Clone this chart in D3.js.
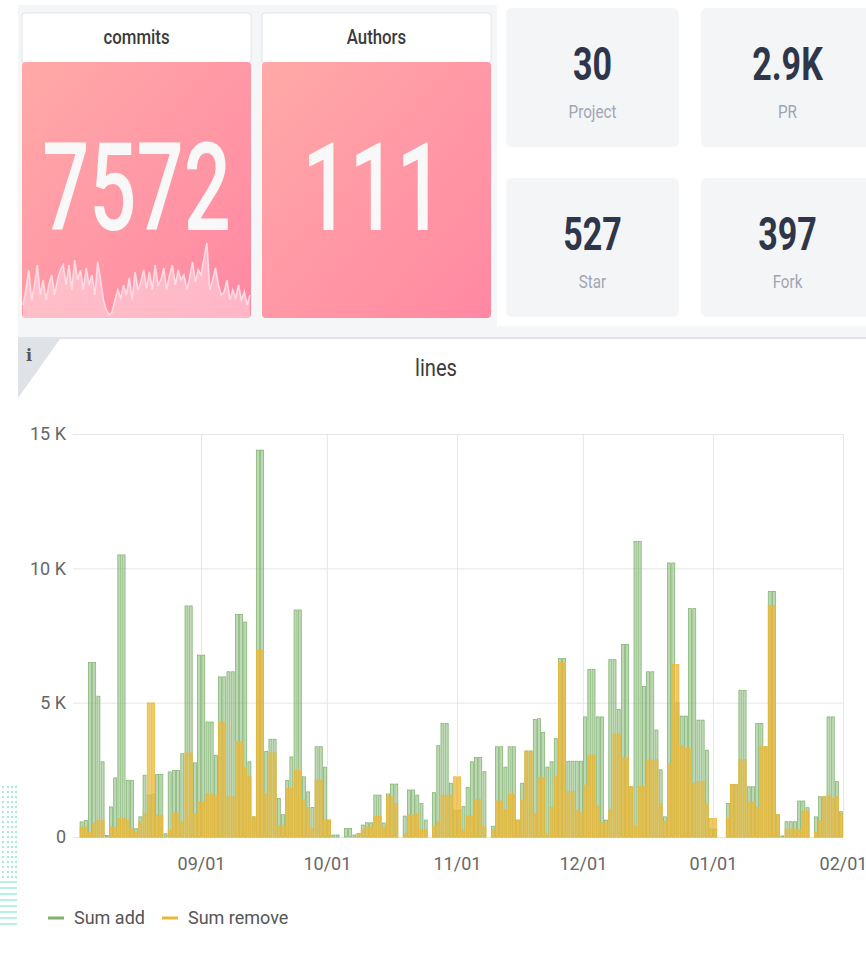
<!DOCTYPE html>
<html>
<head>
<meta charset="utf-8">
<script src="https://cdn.jsdelivr.net/npm/d3@7"></script>
<style>
  body { margin: 0; background: #ffffff; }
  #chart { width: 866px; height: 953px; }
  svg { display: block; font-family: Roboto, "Noto Sans", sans-serif; }
</style>
</head>
<body>
<div id="chart"></div>
<script>

/*
DATA
*/
const firstDay = new Date(2020, 7, 3);   // first daily bar (Aug 3)

const sumAdd = [
  560, 620, 6500, 6500, 5240, 2800, 60, 1120, 2200, 10500,
  10500, 2110, 2110, 310, 750, 2300, 1560, 1600, 2330, 2330,
  120, 2420, 2480, 2480, 3100, 8600, 8600, 2760, 6770, 6770,
  4280, 4280, 3040, 5960, 5960, 6150, 6150, 8280, 8280, 8000,
  2800, 750, 14400, 14400, 3190, 3640, 3640, 1430, 830, 2100,
  2980, 8450, 8450, 2240, 1680, 1100, 3360, 3360, 2600, 630,
  75, 75, 0, 320, 320, 75, 135, 445, 530, 530,
  1560, 1560, 520, 1600, 1970, 1970, 0, 780, 1750, 1750,
  1560, 1250, 630, 0, 1650, 3400, 4220, 4220, 2000, 1000,
  1000, 1130, 1850, 2800, 2960, 2960, 2430, 0, 400, 3360,
  3360, 2600, 3360, 3360, 630, 2000, 3200, 3200, 4370, 4400,
  3900, 2600, 2800, 3660, 6640, 6640, 2820, 2820, 2820, 2820,
  4470, 6240, 6240, 4470, 4470, 630, 6600, 6600, 4750, 7170,
  7170, 1870, 11000, 11000, 5600, 6150, 6150, 3980, 2500, 750,
  10200, 10200, 5000, 4500, 4500, 8500, 8500, 4350, 4350, 3230,
  300, 300, 0, 0, 1250, 1960, 1960, 5460, 5460, 1870,
  1870, 4220, 4220, 3360, 9140, 9140, 840, 40, 570, 570,
  570, 1340, 1340, 1090, 0, 750, 1500, 1500, 4470, 4470,
  2060, 940
];

const sumRemove = [
  370, 370, 190, 500, 620, 620, 0, 370, 370, 680,
  680, 620, 310, 190, 560, 870, 4990, 4990, 810, 810,
  0, 250, 890, 890, 560, 3130, 3130, 870, 1300, 1300,
  1610, 1610, 1550, 4280, 4280, 1490, 1490, 3560, 3560, 2600,
  2240, 750, 6950, 6950, 1600, 3130, 3130, 430, 430, 1800,
  1800, 2480, 2480, 1400, 1100, 320, 2120, 2120, 630, 630,
  0, 0, 0, 0, 0, 0, 135, 260, 385, 385,
  760, 760, 350, 1500, 1500, 1250, 0, 135, 820, 820,
  850, 260, 260, 0, 380, 570, 1560, 1560, 1560, 2240,
  2240, 260, 780, 780, 1400, 1400, 380, 0, 260, 1340,
  1340, 1000, 1590, 1590, 630, 1370, 3200, 3200, 880, 2200,
  2200, 80, 1100, 2240, 6500, 6500, 1700, 1700, 1000, 900,
  1930, 3050, 3050, 1130, 530, 530, 1000, 3830, 3830, 2950,
  2950, 1870, 400, 1870, 1870, 2860, 2860, 2890, 1250, 570,
  2740, 6420, 6420, 3400, 3300, 3300, 2000, 2060, 2060, 1210,
  690, 690, 0, 0, 690, 1960, 1960, 2890, 2890, 1300,
  1300, 1090, 3360, 3360, 8620, 8620, 840, 0, 300, 300,
  300, 260, 970, 970, 0, 160, 600, 1500, 1560, 1440,
  1500, 880
];

// commits per day, small sparkline in the "commits" panel
const commitSpark = [
  13, 28, 48, 18, 33, 53, 23, 38, 18, 33, 43, 23, 38, 48, 53, 33, 53, 28, 58, 38,
  48, 28, 50, 33, 43, 23, 56, 38, 18, 8, 3, 6, 18, 28, 20, 33, 23, 40, 18, 46,
  28, 36, 48, 30, 46, 28, 53, 33, 38, 50, 28, 43, 53, 33, 48, 38, 43, 28, 40, 56,
  36, 48, 43, 60, 75, 28, 38, 50, 33, 23, 26, 38, 18, 28, 20, 33, 18, 26, 13, 23
];

const bigLabels = ["commits", "Authors"];
const bigValues = ["7572", "111"];
const statLabels = ["Project", "PR", "Star", "Fork"];
const statValues = ["30", "2.9K", "527", "397"];
const yTicks = [0, 5000, 10000, 15000];
const seriesNames = ["Sum add", "Sum remove"];
const seriesColors = ["#7EB26D", "#EAB839"];
const chartTitle = "lines";

const days = sumAdd.map(function(d, i) { return d3.timeDay.offset(firstDay, i); });


/*
SVG CANVAS
*/
const width = 866;
const height = 953;
const margin = {top: 434, left: 73, right: 23, bottom: 116};

const svg = d3.select("#chart")
    .append("svg")
    .attr("width", width)
    .attr("height", height);

const defs = svg.append("defs");
const grad = defs.append("linearGradient")
    .attr("id", "pinkGrad")
    .attr("x1", 0).attr("y1", 0)
    .attr("x2", 1).attr("y2", 1);
grad.append("stop").attr("offset", "0%").attr("stop-color", "#ffa9a8");
grad.append("stop").attr("offset", "100%").attr("stop-color", "#ff88a2");

// text squeezed horizontally (the dashboard font is a narrow one)
function squeezed(parent, x, y, str, size, sx, attrs) {
    const t = parent.append("text")
        .attr("transform", `translate(${x},${y}) scale(${sx},1)`)
        .attr("text-anchor", "middle")
        .attr("font-size", size)
        .text(str);
    Object.keys(attrs || {}).forEach(function(k) { t.attr(k, attrs[k]); });
    return t;
}


/*
TOP ROW: COMMITS / AUTHORS
*/
svg.append("rect")
    .attr("x", 18).attr("y", 5)
    .attr("width", 479).attr("height", 323)
    .attr("fill", "#f5f6f8");

svg.append("rect")
    .attr("x", 18).attr("y", 326)
    .attr("width", 848).attr("height", 12)
    .attr("fill", "#f5f6f8");

const bigPanels = svg.selectAll("g.big")
    .data(bigLabels)
    .enter()
    .append("g")
    .attr("class", "big")
    .attr("transform", function(d, i) { return `translate(${22 + i * 240},13)`; });

bigPanels.append("rect")
    .attr("width", 229).attr("height", 50)
    .attr("rx", 3)
    .attr("fill", "#ffffff")
    .attr("stroke", "#e2e4e9");

bigPanels.append("rect")
    .attr("y", 49)
    .attr("width", 229).attr("height", 256)
    .attr("rx", 4)
    .attr("fill", "url(#pinkGrad)");

bigPanels.each(function(d, i) {
    const g = d3.select(this);
    squeezed(g, 114.5, 31, d, 21, 0.8, {fill: "#3b3b3b", "font-weight": 500});
    squeezed(g, i === 0 ? 114.5 : 111, 217, bigValues[i], 122, 0.68, {fill: "#f8f8f8", "font-weight": 500});
});

// sparkline
const sx = d3.scaleLinear().domain([0, commitSpark.length - 1]).range([23, 250]);
const sy = d3.scaleLinear().domain([0, 78]).range([318, 240]);

svg.append("path")
    .datum(commitSpark)
    .attr("d", d3.area()
        .x(function(d, i) { return sx(i); })
        .y0(318)
        .y1(function(d) { return sy(d); }))
    .attr("fill", "rgba(255,228,236,0.5)");

svg.append("path")
    .datum(commitSpark)
    .attr("d", d3.line()
        .x(function(d, i) { return sx(i); })
        .y(function(d) { return sy(d); }))
    .attr("fill", "none")
    .attr("stroke", "#ffdbe5")
    .attr("stroke-width", 1.6);


/*
TOP ROW: STAT BOXES
*/
const stats = svg.selectAll("g.stat")
    .data(statLabels)
    .enter()
    .append("g")
    .attr("class", "stat")
    .attr("transform", function(d, i) { return `translate(${506 + (i % 2) * 195},${8 + Math.floor(i / 2) * 170})`; });

stats.append("rect")
    .attr("width", 173).attr("height", 139)
    .attr("rx", 6)
    .attr("fill", "#f4f5f7");

stats.each(function(d, i) {
    const g = d3.select(this);
    squeezed(g, 86.5, 72, statValues[i], 46, 0.74, {fill: "#2f364a", "font-weight": "bold"});
    squeezed(g, 86.5, 110, d, 19, 0.8, {fill: "#a0a5b2"});
});


/*
LOWER PANEL FRAME
*/
svg.append("line")
    .attr("x1", 18).attr("x2", 866)
    .attr("y1", 338).attr("y2", 338)
    .attr("stroke", "#e2e4e9")
    .attr("stroke-width", 2);

svg.append("path")
    .attr("d", "M18,339 L60,339 L18,398 Z")
    .attr("fill", "#dfe2e7");

svg.append("text")
    .attr("x", 26).attr("y", 361)
    .attr("font-family", "DejaVu Serif, serif")
    .attr("font-weight", "bold")
    .attr("font-size", 16)
    .attr("fill", "#555")
    .text("i");

squeezed(svg, 436, 376, chartTitle, 24, 0.84, {fill: "#3a3a3a"});


/*
SCALES
*/
const xScale = d3.scaleTime()
    .domain([new Date(2020, 7, 1, 12), new Date(2021, 1, 1)])
    .range([margin.left, width - margin.right]);

const yScale = d3.scaleLinear()
    .domain([0, 15000])
    .range([837, margin.top]);


/*
AXES + GRID
*/
const yAxis = svg.append("g")
    .attr("transform", `translate(${margin.left},0)`)
    .call(d3.axisLeft(yScale)
        .tickValues(yTicks)
        .tickSize(-(width - margin.right - margin.left))
        .tickPadding(7)
        .tickFormat(function(d) { return d === 0 ? "0" : (d / 1000) + " K"; }));

const xAxis = svg.append("g")
    .attr("transform", "translate(0,837)")
    .call(d3.axisBottom(xScale)
        .ticks(d3.timeMonth.every(1))
        .tickSize(-(837 - margin.top))
        .tickPadding(20)
        .tickFormat(d3.timeFormat("%m/%d")));

[xAxis, yAxis].forEach(function(ax) {
    ax.select(".domain").remove();
    ax.selectAll("line").attr("stroke", "#e6e6e6");
    ax.selectAll("text")
        .attr("fill", "#666")
        .attr("font-size", 18)
        .attr("font-family", "Roboto, sans-serif");
});


/*
BARS
*/
const barW = 3.0;

svg.append("g").selectAll("rect")
    .data(sumAdd)
    .enter()
    .append("rect")
    .attr("x", function(d, i) { return xScale(days[i]) + 0.8; })
    .attr("y", function(d) { return yScale(d); })
    .attr("width", barW)
    .attr("height", function(d) { return yScale(0) - yScale(d); })
    .attr("fill", seriesColors[0])
    .attr("fill-opacity", 0.5)
    .attr("stroke", seriesColors[0])
    .attr("stroke-width", 0.75);

svg.append("g").selectAll("rect")
    .data(sumRemove)
    .enter()
    .append("rect")
    .attr("x", function(d, i) { return xScale(days[i]) + 0.8; })
    .attr("y", function(d) { return yScale(d); })
    .attr("width", barW)
    .attr("height", function(d) { return yScale(0) - yScale(d); })
    .attr("fill", seriesColors[1])
    .attr("fill-opacity", 0.75)
    .attr("stroke", seriesColors[1])
    .attr("stroke-width", 0.75);


/*
LEGEND
*/
const legend = svg.selectAll("g.legend")
    .data(seriesNames)
    .enter()
    .append("g")
    .attr("class", "legend")
    .attr("transform", function(d, i) { return `translate(${48 + i * 114},918)`; });

legend.append("line")
    .attr("x1", 0).attr("x2", 16)
    .attr("stroke", function(d, i) { return seriesColors[i]; })
    .attr("stroke-width", 3);

legend.append("text")
    .attr("x", 26).attr("y", 6)
    .attr("font-size", 18)
    .attr("fill", "#555")
    .text(function(d) { return d; });


/*
CUT-OFF PANEL AT LEFT EDGE
*/
const edge = svg.append("g").attr("stroke", "#9eeedb");
[3, 8, 12, 16].forEach(function(x) {
    edge.append("line")
        .attr("x1", x).attr("x2", x)
        .attr("y1", 786).attr("y2", 878)
        .attr("stroke-width", 2)
        .attr("stroke-dasharray", "2,3");
});
d3.range(882, 930, 6).forEach(function(y) {
    edge.append("line")
        .attr("x1", 0).attr("x2", 17)
        .attr("y1", y).attr("y2", y)
        .attr("stroke-width", 1.5);
});

</script>
</body>
</html>
